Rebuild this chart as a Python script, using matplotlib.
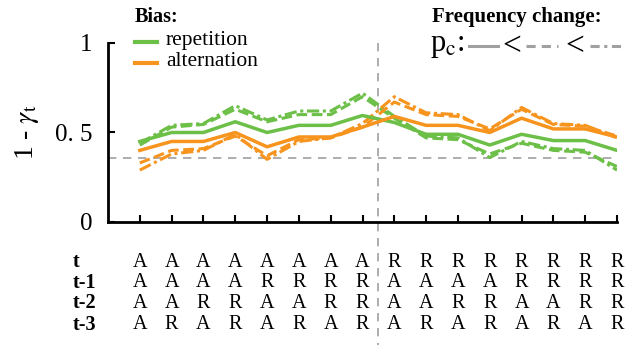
import matplotlib.pyplot as plt
from matplotlib.lines import Line2D
import numpy as np

plt.rcParams['font.family'] = ['Liberation Serif', 'DejaVu Serif']
plt.rcParams['mathtext.fontset'] = 'stix'

# rows of the sequence table below the x axis
row_names = ['t', 't-1', 't-2', 't-3']
seq_t = ['A'] * 8 + ['R'] * 8
seq_t1 = ['A', 'A', 'A', 'A', 'R', 'R', 'R', 'R'] * 2
seq_t2 = ['A', 'A', 'R', 'R'] * 4
seq_t3 = ['A', 'R'] * 8

# 1 - gamma_t, three p_c levels (solid < dashed < dash-dot)
rep_solid = [0.45, 0.50, 0.50, 0.56, 0.50, 0.54, 0.54, 0.595, 0.556, 0.49, 0.49, 0.43, 0.49, 0.455, 0.455, 0.40]
rep_dash = [0.43, 0.53, 0.545, 0.63, 0.56, 0.60, 0.60, 0.70, 0.58, 0.47, 0.46, 0.38, 0.44, 0.40, 0.39, 0.31]
rep_dashdot = [0.44, 0.54, 0.55, 0.65, 0.57, 0.62, 0.62, 0.72, 0.59, 0.48, 0.47, 0.36, 0.45, 0.41, 0.40, 0.29]
alt_solid = [0.40, 0.45, 0.45, 0.50, 0.42, 0.475, 0.475, 0.53, 0.59, 0.54, 0.54, 0.50, 0.58, 0.52, 0.52, 0.475]
alt_dash = [0.33, 0.40, 0.41, 0.48, 0.37, 0.46, 0.47, 0.53, 0.67, 0.60, 0.59, 0.52, 0.63, 0.545, 0.535, 0.48]
alt_dashdot = [0.29, 0.38, 0.40, 0.49, 0.35, 0.45, 0.47, 0.55, 0.70, 0.61, 0.60, 0.51, 0.64, 0.55, 0.54, 0.47]
chance = 0.36

green = '#6cbf47'
orange = '#f7941e'
gray = '#a0a0a0'

fig = plt.figure(figsize=(6.25, 3.45), dpi=100)
ax = fig.add_axes([108 / 625, 1 - 222 / 345, (617 - 108) / 625, (222 - 43) / 345])

x = np.arange(16)
dash = (0, (3.5, 1.5))
dashdot = (0, (4, 1.2, 1, 1.2))
ax.plot(x, rep_dashdot, color=green, lw=2.2, ls=dashdot)
ax.plot(x, rep_dash, color=green, lw=2.2, ls=dash)
ax.plot(x, alt_dashdot, color=orange, lw=2.2, ls=dashdot)
ax.plot(x, alt_dash, color=orange, lw=2.2, ls=dash)
ax.plot(x, rep_solid, color=green, lw=2.5)
ax.plot(x, alt_solid, color=orange, lw=2.5)

ax.axhline(chance, color=gray, lw=1.2, ls=(0, (5, 4)), zorder=0)
ax.plot([7.5, 7.5], [1.0, -0.7], color=gray, lw=1.2, ls=(0, (5, 4)),
        transform=ax.get_xaxis_transform(), clip_on=False, zorder=0)

ax.set_xlim(-1, 15)
ax.set_ylim(0, 1)
ax.set_yticks([0, 0.5, 1])
ax.set_yticklabels(['0', '0. 5', '1'], fontsize=18)
ax.set_xticks(x)
ax.set_xticklabels([])
ax.tick_params(direction='in', length=5, width=1.5, pad=11)
for s in ['top', 'right']:
    ax.spines[s].set_visible(False)
for s in ['left', 'bottom']:
    ax.spines[s].set_linewidth(2)
ax.spines['left'].set_bounds(0, 1)
ax.set_ylabel(r'1 - $\gamma_\mathrm{t}$', fontsize=20, labelpad=10)

# table of the stimulus sequences
tr = ax.get_xaxis_transform()
rows = [seq_t, seq_t1, seq_t2, seq_t3]
row_y = [-0.225, -0.34, -0.455, -0.575]
for name, seq, yy in zip(row_names, rows, row_y):
    ax.text(-2.1, yy, name, transform=tr, ha='left', va='center',
            fontsize=14.5, fontweight='bold')
    for i, s in enumerate(seq):
        ax.text(x[i], yy, s, transform=tr, ha='center', va='center', fontsize=14.5)

# legends
ff = fig.transFigure
def fx(px):
    return px / 625
def fy(py):
    return 1 - py / 345

fig.text(fx(135), fy(17), 'Bias:', fontsize=14.5, fontweight='bold', va='center')
fig.add_artist(Line2D([fx(135), fx(157)], [fy(42), fy(42)], color=green, lw=3, transform=ff))
fig.add_artist(Line2D([fx(135), fx(157)], [fy(63), fy(63)], color=orange, lw=3, transform=ff))
fig.text(fx(166), fy(41), 'repetition', fontsize=15.5, va='center')
fig.text(fx(166), fy(62), 'alternation', fontsize=15.5, va='center')

fig.text(fx(432), fy(17), 'Frequency change:', fontsize=15, fontweight='bold', va='center')
fig.text(fx(430), fy(46), r'p$_\mathrm{c}$:', fontsize=22, va='center')
fig.add_artist(Line2D([fx(469), fx(498)], [fy(46), fy(46)], color=gray, lw=2.2, transform=ff))
fig.text(fx(512), fy(47), '<', fontsize=24, va='center', ha='center')
fig.add_artist(Line2D([fx(526), fx(558)], [fy(46), fy(46)], color=gray, lw=2.2, ls=(0, (3, 2)), transform=ff))
fig.text(fx(575), fy(47), '<', fontsize=24, va='center', ha='center')
fig.add_artist(Line2D([fx(590), fx(621)], [fy(46), fy(46)], color=gray, lw=2.2, ls=(0, (3, 1.5, 1, 1.5)), transform=ff))

fig.savefig('out.png', dpi=100)
